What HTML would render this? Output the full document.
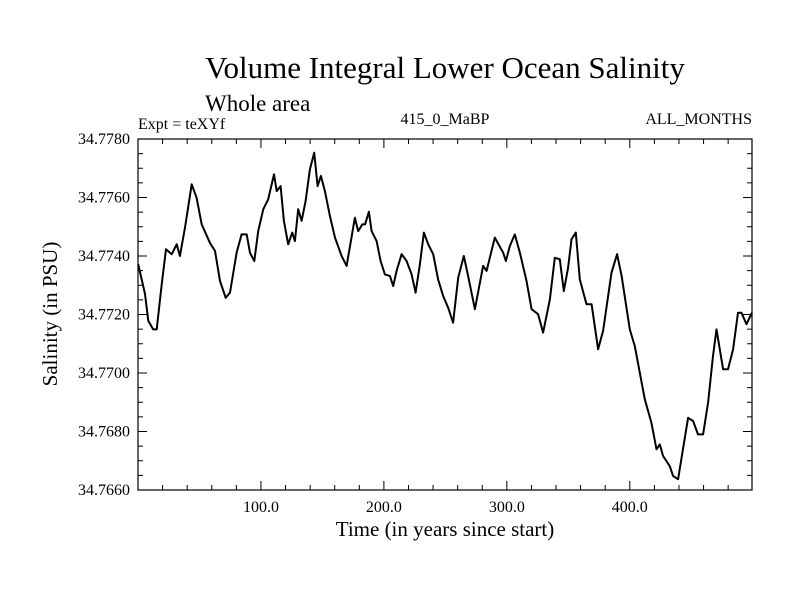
<!DOCTYPE html>
<html><head><meta charset="utf-8"><style>
html,body{margin:0;padding:0;background:#fff;}
svg{display:block;font-family:"Liberation Serif",serif;}
</style></head><body>
<svg id="chart" width="800" height="600">
<text x="445" y="78" font-size="31" text-anchor="middle">Volume Integral Lower Ocean Salinity</text>
<text x="205" y="111" font-size="23">Whole area</text>
<text x="138" y="129" font-size="16">Expt = teXYf</text>
<text x="445" y="124" font-size="16" text-anchor="middle">415_0_MaBP</text>
<text x="752" y="124" font-size="16" text-anchor="end">ALL_MONTHS</text>
<text x="445" y="536" font-size="21" text-anchor="middle">Time (in years since start)</text>
<text x="0" y="0" font-size="21" text-anchor="middle" transform="translate(57,314) rotate(-90)">Salinity (in PSU)</text>
<g id="axes"></g>
<rect x="138" y="139" width="614" height="351" fill="none" stroke="#000" stroke-width="1.2"/>
<path id="line" fill="none" stroke="#000" stroke-width="2" stroke-linejoin="round"/>
</svg>
<script>
const years=[0.2,5.7,8.4,12.4,15.2,19.3,22.8,27.4,31.5,34.1,38.2,43.7,47.7,51.8,58.5,62.6,66.7,71.3,74.8,80.2,84.3,88.4,91.1,94.6,97.8,101.9,105.9,110.6,112.8,116.0,118.7,122.2,125.4,127.6,130.3,133.1,136.3,139.8,143.3,146.1,148.8,152.0,156.1,160.2,165.6,169.7,176.4,179.1,182.4,184.6,187.8,190.0,194.1,197.3,200.8,204.9,207.6,210.3,214.4,218.5,222.5,225.8,229.3,232.5,236.0,240.1,244.1,248.2,252.3,256.3,260.4,265.0,268.5,274.0,280.7,283.5,290.2,297.0,299.2,302.4,306.5,310.6,316.0,320.1,325.4,329.5,335.0,339.0,343.1,346.3,349.8,352.6,356.1,359.3,364.8,368.9,374.2,378.3,385.1,389.7,393.3,400.0,404.1,412.2,417.6,421.7,424.4,427.1,432.5,435.2,439.3,442.8,447.4,451.5,455.5,459.6,463.7,467.7,470.5,475.9,479.9,484.0,488.0,490.8,494.9,499.4];
const salinity=[34.77372,34.77270,34.77178,34.77149,34.77149,34.77303,34.77423,34.77406,34.7744,34.7740,34.77497,34.77645,34.77599,34.77508,34.77445,34.77417,34.77315,34.77257,34.77275,34.77411,34.77474,34.77474,34.77411,34.77383,34.77485,34.77560,34.77594,34.77679,34.77622,34.77639,34.77520,34.7744,34.77480,34.77451,34.77560,34.77520,34.77588,34.77696,34.77753,34.77639,34.77674,34.77622,34.77537,34.77463,34.7740,34.77366,34.77531,34.77485,34.77508,34.77508,34.77551,34.77485,34.77451,34.77383,34.77337,34.77332,34.77297,34.77349,34.77406,34.77383,34.77337,34.77275,34.77372,34.77480,34.7744,34.77406,34.7732,34.77263,34.77223,34.77172,34.77326,34.7740,34.77332,34.77218,34.77366,34.77349,34.77463,34.77411,34.77383,34.77434,34.77474,34.77411,34.77315,34.77218,34.77201,34.77138,34.77252,34.77394,34.77389,34.7728,34.7736,34.77457,34.7748,34.7732,34.77235,34.77235,34.77081,34.77144,34.77343,34.77406,34.77332,34.77149,34.77092,34.7691,34.7683,34.76739,34.76756,34.76716,34.76682,34.76648,34.76637,34.76728,34.76847,34.76836,34.7679,34.7679,34.76899,34.77058,34.77149,34.77013,34.77013,34.77081,34.77206,34.77206,34.77167,34.77206];
const xTickValues=[100,200,300,400];
const xTickLabels=["100.0","200.0","300.0","400.0"];
const yTickValues=[34.766,34.768,34.770,34.772,34.774,34.776,34.778];
const yTickLabels=["34.7660","34.7680","34.7700","34.7720","34.7740","34.7760","34.7780"];
const X0=138,X1=752,Y0=490,Y1=139;
const xMin=0,xMax=499.4,yMin=34.766,yMax=34.778;
const sx=v=>X0+(v-xMin)/(xMax-xMin)*(X1-X0);
const sy=v=>Y0-(v-yMin)/(yMax-yMin)*(Y0-Y1);
const NS="http://www.w3.org/2000/svg";
const g=document.getElementById('axes');
function ln(x1,y1,x2,y2){const l=document.createElementNS(NS,'line');l.setAttribute('x1',x1);l.setAttribute('y1',y1);l.setAttribute('x2',x2);l.setAttribute('y2',y2);l.setAttribute('stroke','#000');l.setAttribute('stroke-width','1');


g.appendChild(l);}
function tx(x,y,s,anchor,name){const t=document.createElementNS(NS,'text');t.setAttribute('x',x);t.setAttribute('y',y);t.setAttribute('font-size','16');t.setAttribute('text-anchor',anchor);t.textContent=s;


g.appendChild(t);}
for(let v=20;v<xMax;v+=20){const x=sx(v);const major=v%100===0;const L=major?9:5;ln(x,Y0,x,Y0-L);ln(x,Y1,x,Y1+L);}
xTickValues.forEach((v,i)=>tx(sx(v),512,xTickLabels[i],'middle','x-tick-label'));
for(let k=0;k<=24;k++){const v=yMin+k*0.0005;const y=sy(v);const L=(k%4===0)?9:5;ln(X0,y,X0+L,y);ln(X1,y,X1-L,y);}
yTickValues.forEach((v,i)=>tx(130,sy(v)+5,yTickLabels[i],'end','y-tick-label'));
let d='';years.forEach((v,i)=>{d+=(i?'L':'M')+sx(v).toFixed(1)+','+sy(salinity[i]).toFixed(1);});
document.getElementById('line').setAttribute('d',d);
</script>
</body></html>
